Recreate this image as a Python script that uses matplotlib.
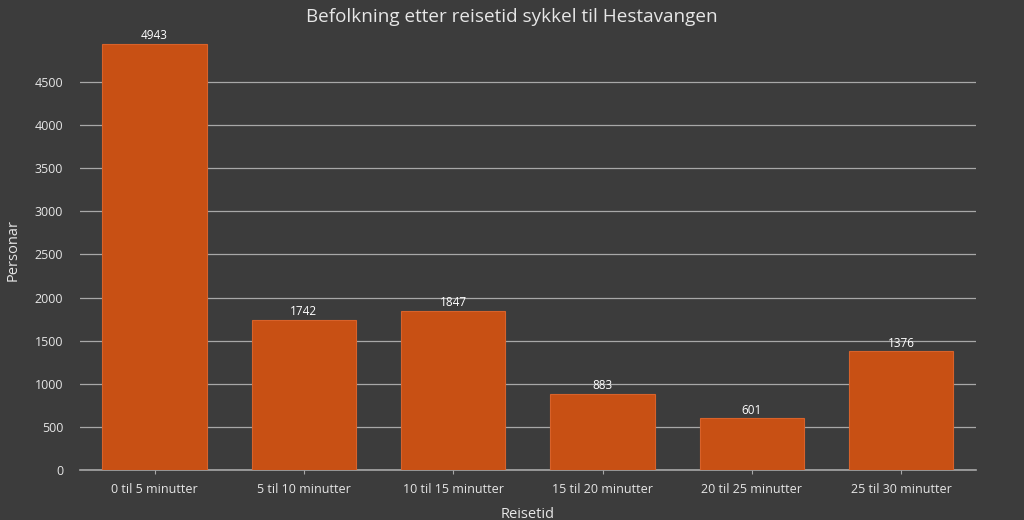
import matplotlib
matplotlib.use("Agg")
import matplotlib.pyplot as plt

plt.rcParams['font.family'] = ['Open Sans', 'DejaVu Sans']

categories = ["0 til 5 minutter", "5 til 10 minutter", "10 til 15 minutter",
              "15 til 20 minutter", "20 til 25 minutter", "25 til 30 minutter"]
personar = [4943, 1742, 1847, 883, 601, 1376]
yticks = [0, 500, 1000, 1500, 2000, 2500, 3000, 3500, 4000, 4500]

bg = '#3c3c3c'
bar_color = '#c85014'
text_color = '#e6e6e6'
grid_color = '#a8a8a8'

fig = plt.figure(figsize=(10.24, 5.2), dpi=100, facecolor=bg)
ax = fig.add_axes([0.078, 0.096, 0.875, 0.846], facecolor=bg)

x = range(len(categories))
bars = ax.bar(x, personar, width=0.7, color=bar_color, edgecolor='#d8622a',
              linewidth=0.8, zorder=2)
for b, v in zip(bars, personar):
    ax.text(b.get_x() + b.get_width() / 2, v + 20, str(v), ha='center',
            va='bottom', color='white', fontsize=8.5, zorder=3)

ax.set_xlim(-0.5, len(categories) - 0.5)
ax.set_ylim(0, 5100)
ax.set_yticks(yticks)
ax.set_xticks(list(x))
ax.set_xticklabels(categories)
ax.yaxis.grid(True, color=grid_color, linewidth=0.9, zorder=1)
ax.axhline(0, color=grid_color, linewidth=1.2, zorder=1, clip_on=False)
ax.set_axisbelow(True)
for s in ax.spines.values():
    s.set_visible(False)
ax.tick_params(axis='y', length=0, colors=text_color, labelsize=9, pad=12)
ax.tick_params(axis='x', length=3, color=grid_color, colors=text_color,
               labelsize=9, pad=6)
for lbl in ax.get_xticklabels() + ax.get_yticklabels():
    lbl.set_color(text_color)

ax.set_xlabel('Reisetid', color=text_color, fontsize=10.5, labelpad=8)
ax.set_ylabel('Personar', color=text_color, fontsize=10.5, labelpad=10)
fig.text(0.5, 0.968, 'Befolkning etter reisetid sykkel til Hestavangen',
         ha='center', va='center', color=text_color, fontsize=13.6)

fig.savefig('out.png', dpi=100, facecolor=bg)
